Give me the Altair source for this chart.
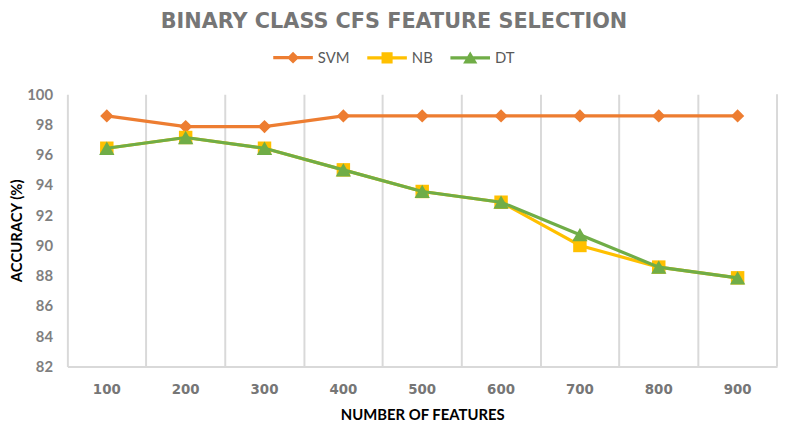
import altair as alt
import pandas as pd

features = ["100", "200", "300", "400", "500", "600", "700", "800", "900"]
svm = [98.57, 97.86, 97.86, 98.57, 98.57, 98.57, 98.57, 98.57, 98.57]
nb = [96.43, 97.14, 96.43, 95.00, 93.57, 92.86, 90.00, 88.57, 87.86]
dt = [96.43, 97.14, 96.43, 95.00, 93.57, 92.86, 90.71, 88.57, 87.86]
series = ["SVM", "NB", "DT"]
colors = ["#ED7D31", "#FFC000", "#70AD47"]

rows = []
for name, vals in zip(series, [svm, nb, dt]):
    for f, v in zip(features, vals):
        rows.append({"features": f, "accuracy": v, "series": name})
df = pd.DataFrame(rows)

W, H = 717, 275

x = alt.X("features:O", sort=features, bandPosition=0.5,
          scale=alt.Scale(type="band", paddingInner=0, paddingOuter=0),
          axis=alt.Axis(title="NUMBER OF FEATURES", labelAngle=0, bandPosition=0,
                        grid=True, gridColor="#d9d9d9", gridWidth=2,
                        ticks=False, domainColor="#d9d9d9", domainWidth=2,
                        labelFont="DejaVu Sans", labelFontWeight="bold", labelFontSize=13.5,
                        labelColor="#767676", labelPadding=16,
                        titleFont="Lato", titleFontWeight="bold", titleFontSize=15,
                        titleColor="#000000", titlePadding=12))
y = alt.Y("accuracy:Q",
          scale=alt.Scale(domain=[82, 100], nice=False, zero=False),
          axis=alt.Axis(title="ACCURACY (%)", values=list(range(82, 101, 2)),
                        grid=False, domain=False, ticks=False,
                        labelFont="Lato", labelFontWeight="bold", labelFontSize=15,
                        labelColor="#7f7f7f", labelPadding=15,
                        titleFont="Lato", titleFontWeight="bold", titleFontSize=15,
                        titleColor="#000000", titlePadding=2))
color_scale = alt.Scale(domain=series, range=colors)

shapes = {"SVM": "diamond", "NB": "square", "DT": "triangle-up"}
sizes = {"SVM": 180, "NB": 185, "DT": 240}

line_path = "M-1,-0.08H1V0.08H-1Z"
legend_paths = [
    line_path + "M0,-0.3L0.3,0L0,0.3L-0.3,0Z",
    line_path + "M-0.28,-0.28H0.28V0.28H-0.28Z",
    line_path + "M0,-0.32L0.36,0.28H-0.36Z",
]

base = alt.Chart(df)

legend_layer = base.mark_point(filled=True, size=0, opacity=1).encode(
    x=x, y=y,
    color=alt.Color("series:N", scale=color_scale, sort=series,
                    legend=alt.Legend(title=None, orient="none", direction="horizontal",
                                      legendX=207, legendY=-58,
                                      symbolSize=1600, symbolOpacity=1,
                                      labelFont="Lato", labelFontSize=15, labelColor="#595959",
                                      labelOffset=4, columnPadding=14)),
    shape=alt.Shape("series:N", sort=series,
                    scale=alt.Scale(domain=series, range=legend_paths)),
)

layers = [legend_layer]
for name in series:
    sub = base.transform_filter(alt.datum.series == name)
    layers.append(sub.mark_line(strokeWidth=3.2).encode(
        x=x, y=y, color=alt.Color("series:N", scale=color_scale, legend=None)))
    layers.append(sub.mark_point(shape=shapes[name], filled=True, opacity=1, size=sizes[name]).encode(
        x=x, y=y, color=alt.Color("series:N", scale=color_scale, legend=None)))

right_edge = alt.Chart(alt.Data(values=[{"a": 1}])).mark_rule(color="#d9d9d9", strokeWidth=2).encode(
    x=alt.value(W), y=alt.value(0), y2=alt.value(H))
layers.append(right_edge)

chart = alt.layer(*layers).resolve_legend(color="independent", shape="independent").properties(
    width=W, height=H,
    title=alt.TitleParams("BINARY CLASS CFS FEATURE SELECTION", font="DejaVu Sans",
                          fontWeight="bold", fontSize=21, color="#767676",
                          anchor="middle", frame="bounds", offset=5),
    autosize=alt.AutoSizeParams(type="none"),
    padding={"left": 60, "top": 85, "right": 3, "bottom": 55},
).configure_view(stroke=None)

chart.save("out.html", embed_options={"renderer": "svg", "actions": False})
